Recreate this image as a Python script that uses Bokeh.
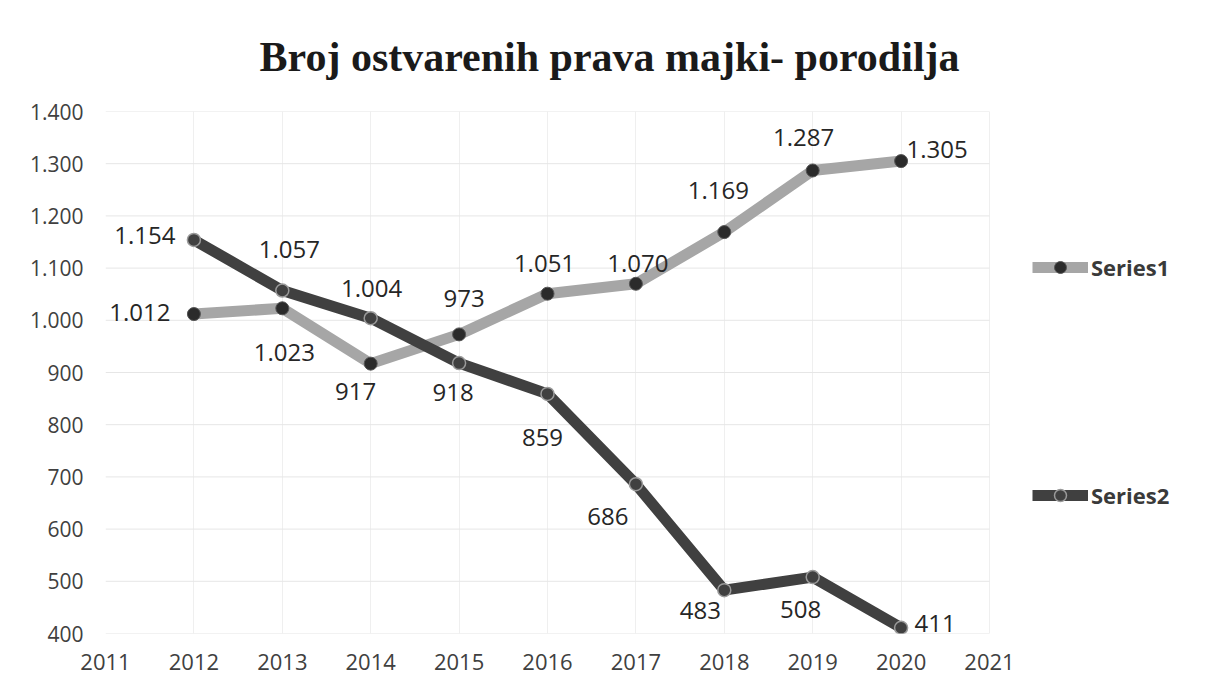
from bokeh.plotting import figure
from bokeh.models import (ColumnDataSource, LabelSet, Legend, LegendItem, FixedTicker,
                          CustomJSTickFormatter, Range1d)
from bokeh.core.properties import value
from bokeh.embed import file_html
from bokeh.resources import INLINE

# ---- data ----
title_text = "Broj ostvarenih prava majki- porodilja"
years = [2012, 2013, 2014, 2015, 2016, 2017, 2018, 2019, 2020]
series1 = [1012, 1023, 917, 973, 1051, 1070, 1169, 1287, 1305]
series2 = [1154, 1057, 1004, 918, 859, 686, 483, 508, 411]
series_names = ["Series1", "Series2"]
x_ticks = [2011, 2012, 2013, 2014, 2015, 2016, 2017, 2018, 2019, 2020, 2021]
y_ticks = [400, 500, 600, 700, 800, 900, 1000, 1100, 1200, 1300, 1400]

# ---- label placement (screen px offsets; style only) ----
s1_dx = [-54, 2, -15, 5, -3, 2, -6, -9, 36]
s1_dy = [2, -44, -28, 36, 30, 20, 42, 33, 12]
s2_dx = [-49, 7, 1, -6, -5, -28, -24, -12, 34]
s2_dy = [4, 41, 30, -29, -44, -32, -20, -32, 4]

def fmt(v):
    return f"{v:,}".replace(",", ".")

C1 = "#a6a6a6"
C2 = "#404040"

# layout: plot area spans 2011..2021 over 884 px; the frame is widened to the right
# so that the legend (which sits right of the plot area) is drawn inside the frame.
PX_PER_YEAR = 88.4
FRAME_LEFT, FRAME_W = 105, 1100
x_end = x_ticks[0] + FRAME_W / PX_PER_YEAR

p = figure(width=1211, height=686, output_backend="svg", toolbar_location=None,
           x_range=Range1d(x_ticks[0], x_end), y_range=Range1d(y_ticks[0], y_ticks[-1]),
           min_border_left=FRAME_LEFT, min_border_right=1211 - FRAME_LEFT - FRAME_W,
           min_border_bottom=53, min_border_top=111)
p.outline_line_color = None
p.background_fill_color = "white"
p.border_fill_color = "white"

p.title.text = title_text
p.title.text_font = "Liberation Serif"
p.title.text_font_style = "bold"
p.title.text_font_size = "42px"
p.title.text_color = "#1a1a1a"
p.title.align = "left"
p.title.offset = 154
p.title.standoff = 63

# grids: vertical via the grid, horizontal limited to the 2011..2021 plot area
p.xgrid.ticker = FixedTicker(ticks=x_ticks)
p.xgrid.grid_line_color = "#efefef"
p.ygrid.grid_line_color = None
p.segment(x0=[x_ticks[0]] * len(y_ticks), x1=[x_ticks[-1]] * len(y_ticks),
          y0=y_ticks, y1=y_ticks, line_color="#e6e6e6", line_width=1)

# axes
p.xaxis.ticker = FixedTicker(ticks=x_ticks)
p.yaxis.ticker = FixedTicker(ticks=y_ticks)
p.yaxis.formatter = CustomJSTickFormatter(code="""
const s = Math.round(tick).toString();
return s.length > 3 ? s.slice(0, s.length - 3) + '.' + s.slice(-3) : s;
""")
for ax in (p.xaxis[0], p.yaxis[0]):
    ax.axis_line_color = None
    ax.major_tick_line_color = None
    ax.minor_tick_line_color = None
    ax.major_tick_out = 0
    ax.major_tick_in = 0
    ax.major_label_text_font = "Open Sans"
    ax.major_label_text_color = "#404040"
p.yaxis.major_label_text_font_size = "21px"
p.yaxis.major_label_standoff = 22
p.xaxis.major_label_text_font_size = "22px"
p.xaxis.major_label_standoff = 20

src1 = ColumnDataSource(dict(x=years, y=series1, t=[fmt(v) for v in series1], dx=s1_dx, dy=s1_dy))
src2 = ColumnDataSource(dict(x=years, y=series2, t=[fmt(v) for v in series2], dx=s2_dx, dy=s2_dy))

l1 = p.line("x", "y", source=src1, line_color=C1, line_width=11, line_join="round")
l2 = p.line("x", "y", source=src2, line_color=C2, line_width=11, line_join="round")
m1 = p.scatter("x", "y", source=src1, size=13, fill_color="#2b2b2b", line_color="#555555", line_width=1)
m2 = p.scatter("x", "y", source=src2, size=13, fill_color=C2, line_color="#9a9a9a", line_width=1.5)

for src in (src1, src2):
    p.add_layout(LabelSet(x="x", y="y", text="t", source=src, x_offset="dx", y_offset="dy",
                          text_align="center", text_baseline="middle",
                          text_font=value("Open Sans"), text_font_size="24px",
                          text_color="#262626"))

legend = Legend(items=[LegendItem(label=series_names[0], renderers=[l1, m1]),
                       LegendItem(label=series_names[1], renderers=[l2, m2])],
                location=(927, 123), orientation="vertical",
                glyph_width=56, glyph_height=30, label_height=30, spacing=198,
                label_standoff=3, padding=0, margin=0,
                border_line_color=None, background_fill_alpha=0,
                label_text_font="Open Sans", label_text_font_style="bold",
                label_text_font_size="22px", label_text_color="#3a3a3a")
p.add_layout(legend, "center")

open("out.html", "w").write(file_html(p, INLINE))
